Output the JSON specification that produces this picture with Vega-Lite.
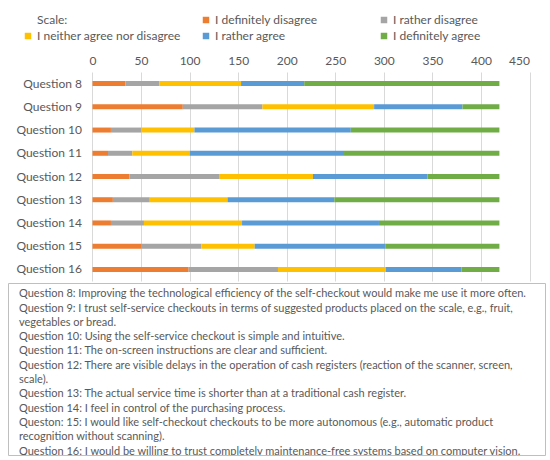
{
  "$schema": "https://vega.github.io/schema/vega-lite/v6.json",
  "padding": {"left": 7, "top": 14, "right": 0, "bottom": 0},
  "background": "white",
  "datasets": {
    "answers": [
      {"question": "Question 8", "answer": "I definitely disagree", "rank": 1, "count": 34},
      {"question": "Question 8", "answer": "I rather disagree", "rank": 2, "count": 35},
      {"question": "Question 8", "answer": "I neither agree nor disagree", "rank": 3, "count": 84},
      {"question": "Question 8", "answer": "I rather agree", "rank": 4, "count": 65},
      {"question": "Question 8", "answer": "I definitely agree", "rank": 5, "count": 201},
      {"question": "Question 9", "answer": "I definitely disagree", "rank": 1, "count": 93},
      {"question": "Question 9", "answer": "I rather disagree", "rank": 2, "count": 82},
      {"question": "Question 9", "answer": "I neither agree nor disagree", "rank": 3, "count": 115},
      {"question": "Question 9", "answer": "I rather agree", "rank": 4, "count": 91},
      {"question": "Question 9", "answer": "I definitely agree", "rank": 5, "count": 38},
      {"question": "Question 10", "answer": "I definitely disagree", "rank": 1, "count": 19},
      {"question": "Question 10", "answer": "I rather disagree", "rank": 2, "count": 31},
      {"question": "Question 10", "answer": "I neither agree nor disagree", "rank": 3, "count": 55},
      {"question": "Question 10", "answer": "I rather agree", "rank": 4, "count": 161},
      {"question": "Question 10", "answer": "I definitely agree", "rank": 5, "count": 153},
      {"question": "Question 11", "answer": "I definitely disagree", "rank": 1, "count": 16},
      {"question": "Question 11", "answer": "I rather disagree", "rank": 2, "count": 25},
      {"question": "Question 11", "answer": "I neither agree nor disagree", "rank": 3, "count": 59},
      {"question": "Question 11", "answer": "I rather agree", "rank": 4, "count": 159},
      {"question": "Question 11", "answer": "I definitely agree", "rank": 5, "count": 160},
      {"question": "Question 12", "answer": "I definitely disagree", "rank": 1, "count": 38},
      {"question": "Question 12", "answer": "I rather disagree", "rank": 2, "count": 93},
      {"question": "Question 12", "answer": "I neither agree nor disagree", "rank": 3, "count": 96},
      {"question": "Question 12", "answer": "I rather agree", "rank": 4, "count": 118},
      {"question": "Question 12", "answer": "I definitely agree", "rank": 5, "count": 74},
      {"question": "Question 13", "answer": "I definitely disagree", "rank": 1, "count": 21},
      {"question": "Question 13", "answer": "I rather disagree", "rank": 2, "count": 38},
      {"question": "Question 13", "answer": "I neither agree nor disagree", "rank": 3, "count": 80},
      {"question": "Question 13", "answer": "I rather agree", "rank": 4, "count": 110},
      {"question": "Question 13", "answer": "I definitely agree", "rank": 5, "count": 170},
      {"question": "Question 14", "answer": "I definitely disagree", "rank": 1, "count": 19},
      {"question": "Question 14", "answer": "I rather disagree", "rank": 2, "count": 34},
      {"question": "Question 14", "answer": "I neither agree nor disagree", "rank": 3, "count": 101},
      {"question": "Question 14", "answer": "I rather agree", "rank": 4, "count": 141},
      {"question": "Question 14", "answer": "I definitely agree", "rank": 5, "count": 124},
      {"question": "Question 15", "answer": "I definitely disagree", "rank": 1, "count": 50},
      {"question": "Question 15", "answer": "I rather disagree", "rank": 2, "count": 62},
      {"question": "Question 15", "answer": "I neither agree nor disagree", "rank": 3, "count": 55},
      {"question": "Question 15", "answer": "I rather agree", "rank": 4, "count": 135},
      {"question": "Question 15", "answer": "I definitely agree", "rank": 5, "count": 117},
      {"question": "Question 16", "answer": "I definitely disagree", "rank": 1, "count": 99},
      {"question": "Question 16", "answer": "I rather disagree", "rank": 2, "count": 92},
      {"question": "Question 16", "answer": "I neither agree nor disagree", "rank": 3, "count": 111},
      {"question": "Question 16", "answer": "I rather agree", "rank": 4, "count": 78},
      {"question": "Question 16", "answer": "I definitely agree", "rank": 5, "count": 39}
    ],
    "notes": [
      {"line": 1, "text": "Question 8: Improving the technological efficiency of the self-checkout would make me use it more often."},
      {"line": 2, "text": "Question 9: I trust self-service checkouts in terms of suggested products placed on the scale, e.g., fruit,"},
      {"line": 3, "text": " vegetables or bread."},
      {"line": 4, "text": "Question 10: Using the self-service checkout is simple and intuitive."},
      {"line": 5, "text": "Question 11: The on-screen instructions are clear and sufficient."},
      {"line": 6, "text": "Question 12: There are visible delays in the operation of cash registers (reaction of the scanner, screen,"},
      {"line": 7, "text": " scale)."},
      {"line": 8, "text": "Question 13: The actual service time is shorter than at a traditional cash register."},
      {"line": 9, "text": "Question 14: I feel in control of the purchasing process."},
      {"line": 10, "text": "Queston: 15: I would like self-checkout checkouts to be more autonomous (e.g., automatic product"},
      {"line": 11, "text": " recognition without scanning)."},
      {"line": 12, "text": "Question 16: I would be willing to trust completely maintenance-free systems based on computer vision."}
    ]
  },
  "spacing": 1,
  "resolve": {"scale": {"color": "independent"}, "legend": {"color": "independent"}},
  "vconcat": [
    {
      "width": 521.5,
      "height": 209,
      "view": {"stroke": null},
      "data": {"name": "answers"},
      "mark": {"type": "bar", "size": 5},
      "encoding": {
        "y": {
          "field": "question",
          "type": "nominal",
          "sort": ["Question 8", "Question 9", "Question 10", "Question 11", "Question 12", "Question 13", "Question 14", "Question 15", "Question 16"],
          "axis": {
            "title": null,
            "offset": -84.5,
            "ticks": false,
            "domain": false,
            "labelPadding": 11,
            "labelFontSize": 12,
            "labelColor": "#595959"
          }
        },
        "x": {
          "field": "count",
          "type": "quantitative",
          "stack": "zero",
          "scale": {"domain": [-87, 450], "nice": false, "zero": false},
          "axis": {
            "orient": "top",
            "title": null,
            "values": [0, 50, 100, 150, 200, 250, 300, 350, 400, 450],
            "grid": true,
            "gridColor": "#d9d9d9",
            "ticks": false,
            "domain": false,
            "labelPadding": 5,
            "labelFontSize": 12,
            "labelColor": "#595959"
          }
        },
        "order": {"field": "rank", "type": "quantitative"},
        "color": {
          "field": "answer",
          "type": "nominal",
          "scale": {
            "domain": ["Scale:", "I neither agree nor disagree", "I definitely disagree", "I rather agree", "I rather disagree", "I definitely agree"],
            "range": ["rgba(0,0,0,0)", "#FFC000", "#ED7D31", "#5B9BD5", "#A5A5A5", "#70AD47"]
          },
          "legend": {
            "title": null,
            "orient": "none",
            "legendX": 14,
            "legendY": -58,
            "padding": 0,
            "columns": 3,
            "gridAlign": "all",
            "columnPadding": 19,
            "rowPadding": 4,
            "symbolType": "square",
            "symbolSize": 42,
            "symbolStrokeWidth": 0,
            "labelOffset": 3,
            "labelFontSize": 12,
            "labelColor": "#595959",
            "labelLimit": 300
          }
        }
      }
    },
    {
      "width": 537,
      "height": 172,
      "view": {"stroke": "#bfbfbf", "strokeWidth": 1},
      "data": {"name": "notes"},
      "mark": {"type": "text", "align": "left", "baseline": "middle", "fontSize": 11, "color": "#595959", "clip": true},
      "encoding": {
        "x": {"value": 11},
        "y": {
          "field": "line",
          "type": "quantitative",
          "scale": {"domain": [0.21, 12.24], "reverse": true},
          "axis": null
        },
        "text": {"field": "text"}
      }
    }
  ],
  "config": {
    "font": "Lato"
  }
}
